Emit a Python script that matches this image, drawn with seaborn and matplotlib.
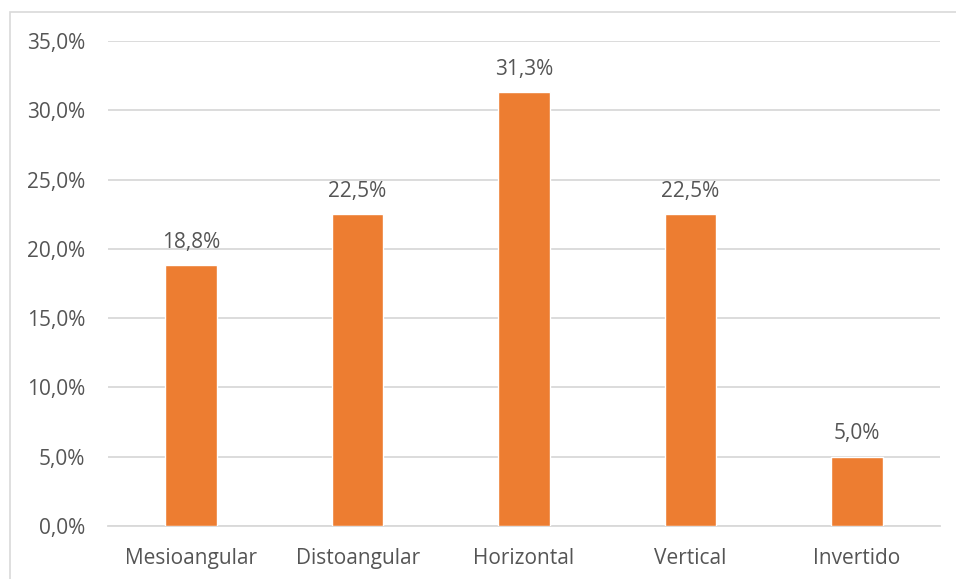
import matplotlib
matplotlib.use("Agg")
import matplotlib.pyplot as plt
from matplotlib.patches import Rectangle
from matplotlib.ticker import FuncFormatter, MultipleLocator
import seaborn as sns
import pandas as pd

categories = ["Mesioangular", "Distoangular", "Horizontal", "Vertical", "Invertido"]
values = [18.8, 22.5, 31.3, 22.5, 5.0]

sns.set_theme(style="white")
plt.rcParams["font.family"] = ["Open Sans", "DejaVu Sans"]

df = pd.DataFrame({"pos": categories, "pct": values})

fig = plt.figure(figsize=(9.56, 5.79), dpi=100)
ax = fig.add_axes([108 / 956, 1 - 526 / 579, (940 - 108) / 956, (526 - 41) / 579])

text_color = "#555555"
grid_color = "#d9d9d9"
fs = 15

sns.barplot(data=df, x="pos", y="pct", color="#ed7d31", saturation=1,
            width=0.31, ax=ax, zorder=3)

ax.set_ylim(0, 35)
ax.yaxis.set_major_locator(MultipleLocator(5))
ax.yaxis.set_major_formatter(FuncFormatter(lambda v, _: f"{v:.1f}%".replace(".", ",")))
ax.grid(axis="y", color=grid_color, linewidth=1.3, zorder=0)
ax.set_axisbelow(True)
for side in ["top", "right", "left"]:
    ax.spines[side].set_visible(False)
ax.spines["bottom"].set_color(grid_color)
ax.spines["bottom"].set_linewidth(1.3)
ax.set_xlabel("")
ax.set_ylabel("")
ax.tick_params(axis="both", length=0, labelsize=fs, labelcolor=text_color)
ax.tick_params(axis="y", pad=16.5)
ax.tick_params(axis="x", pad=15.5)

for i, v in enumerate(values):
    ax.annotate(f"{v:.1f}%".replace(".", ","), (i, v), xytext=(0, 9),
                textcoords="offset points", ha="center", va="bottom",
                fontsize=fs, color=text_color)

# chart frame
fig.patches.append(Rectangle((9.5 / 956, -0.05), 1.1, 1 - 11.5 / 579 + 0.05,
                             transform=fig.transFigure, fill=False,
                             edgecolor="#d9d9d9", linewidth=1.2))

fig.savefig("out.png", dpi=100)
